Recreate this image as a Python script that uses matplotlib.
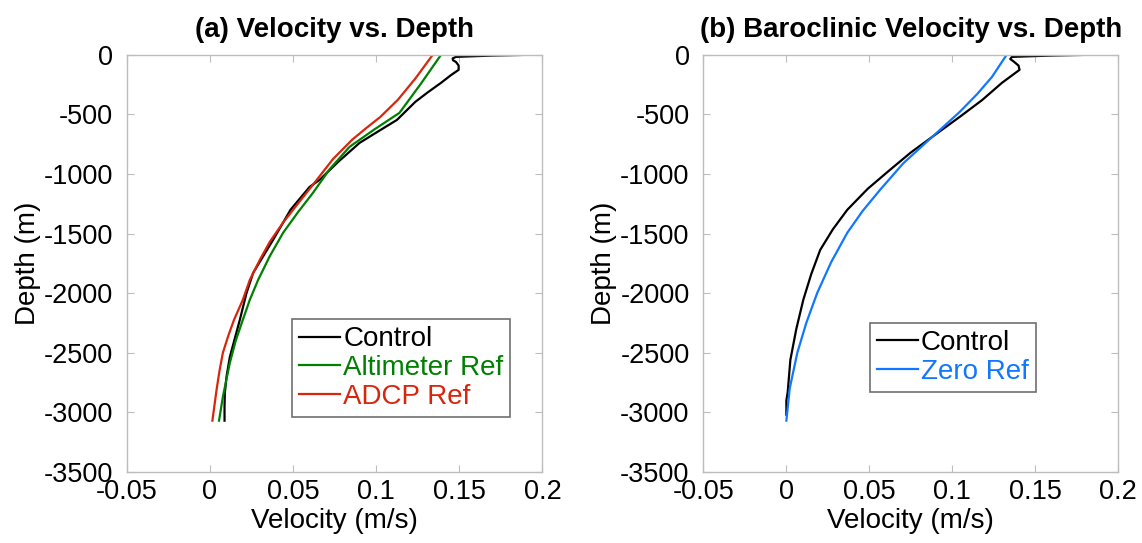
import matplotlib.pyplot as plt

plt.rcParams['font.family'] = ['Liberation Sans', 'DejaVu Sans']
plt.rcParams['axes.unicode_minus'] = False

# ---------------- datos panel (a) ----------------
ctrl_a_v = [0.1905, 0.170, 0.148, 0.1460, 0.1462, 0.148, 0.1496, 0.1496, 0.145,
            0.139, 0.131, 0.1235, 0.1125, 0.1015, 0.090, 0.077, 0.066, 0.060,
            0.0485, 0.038, 0.026, 0.022, 0.018, 0.012, 0.010, 0.009, 0.0088, 0.0088]
ctrl_a_d = [0, -6, -17, -30, -45, -60, -90, -126, -170,
            -235, -315, -395, -546, -640, -739, -900, -1049, -1108,
            -1300, -1553, -1830, -2000, -2224, -2535, -2700, -2837, -2950, -3070]

alt_v = [0.139, 0.127, 0.114, 0.099, 0.084, 0.072, 0.062, 0.053, 0.044,
         0.036, 0.029, 0.024, 0.0198, 0.0155, 0.012, 0.0078, 0.0055]
alt_d = [0, -240, -487, -625, -772, -960, -1158, -1320, -1494,
         -1690, -1889, -2056, -2224, -2400, -2585, -2870, -3070]

adcp_v = [0.134, 0.1235, 0.113, 0.1025, 0.094, 0.0855, 0.074, 0.0643, 0.054,
          0.0439, 0.036, 0.030, 0.024, 0.0198, 0.0145, 0.011, 0.0078, 0.0058,
          0.004, 0.0015]
adcp_d = [0, -200, -378, -521, -615, -713, -875, -1049, -1230,
          -1410, -1570, -1721, -1889, -2056, -2224, -2360, -2501, -2650,
          -2812, -3070]

# ---------------- datos panel (b) ----------------
ctrl_b_v = [0.181, 0.160, 0.136, 0.135, 0.137, 0.140, 0.1406, 0.130, 0.118,
            0.1046, 0.088, 0.075, 0.0625, 0.049, 0.0367, 0.028, 0.0204,
            0.015, 0.0102, 0.006, 0.0024, 0.0008, 0.0, 0.0]
ctrl_b_d = [0, -6, -17, -35, -55, -90, -126, -235, -380,
            -520, -688, -820, -965, -1125, -1301, -1465, -1637,
            -1840, -2056, -2300, -2560, -2830, -2900, -3020]

zero_v = [0.1328, 0.124, 0.115, 0.1046, 0.088, 0.0705, 0.0565, 0.046, 0.0367,
          0.027, 0.0186, 0.012, 0.0066, 0.002, 0.0]
zero_d = [0, -185, -330, -478, -688, -910, -1133, -1310, -1494,
          -1740, -1998, -2250, -2500, -2800, -3070]

xticks = [-0.05, 0, 0.05, 0.1, 0.15, 0.2]
xtick_labels = ['-0.05', '0', '0.05', '0.1', '0.15', '0.2']
yticks = [-3500, -3000, -2500, -2000, -1500, -1000, -500, 0]

GREEN = '#008000'
RED = '#d8260c'
BLUE = '#1177ff'
GREY = '#bdbdbd'

fig = plt.figure(figsize=(11.42, 5.43), dpi=100)
ax1 = fig.add_axes([0.111, 0.131, 0.364, 0.768])
ax2 = fig.add_axes([0.616, 0.131, 0.363, 0.768])


def estilo(ax, titulo):
    ax.set_xlim(-0.05, 0.2)
    ax.set_ylim(-3500, 0)
    ax.set_xticks(xticks)
    ax.set_xticklabels(xtick_labels)
    ax.set_yticks(yticks)
    ax.tick_params(direction='in', length=5, width=0.8, color=GREY,
                   labelsize=19.5, top=True, right=True)
    ax.tick_params(axis='x', pad=5)
    ax.tick_params(axis='y', pad=10)
    for s in ax.spines.values():
        s.set_color(GREY)
        s.set_linewidth(1.0)
    ax.set_xlabel('Velocity (m/s)', fontsize=20, labelpad=2)
    ax.set_ylabel('Depth (m)', fontsize=20, labelpad=2)
    ax.set_title(titulo, fontsize=20, fontweight='bold', pad=13)


def leyenda(ax, anchor, colores):
    leg = ax.legend(loc='lower right', bbox_to_anchor=anchor, fontsize=20,
                    frameon=True, fancybox=False, edgecolor='#707070',
                    framealpha=1, handlelength=1.5, handletextpad=0.1,
                    borderpad=0.25, labelspacing=0.1, borderaxespad=0)
    leg.get_frame().set_linewidth(1.2)
    for t, c in zip(leg.get_texts(), colores):
        t.set_color(c)


# panel (a)
ax1.plot(ctrl_a_v, ctrl_a_d, color='black', lw=1.6, label='Control')
ax1.plot(alt_v, alt_d, color=GREEN, lw=1.6, label='Altimeter Ref')
ax1.plot(adcp_v, adcp_d, color=RED, lw=1.6, label='ADCP Ref')
estilo(ax1, '(a) Velocity vs. Depth')
leyenda(ax1, (0.923, 0.132), ['black', GREEN, RED])

# panel (b)
ax2.plot(ctrl_b_v, ctrl_b_d, color='black', lw=1.6, label='Control')
ax2.plot(zero_v, zero_d, color=BLUE, lw=1.6, label='Zero Ref')
estilo(ax2, '(b) Baroclinic Velocity vs. Depth')
leyenda(ax2, (0.802, 0.192), ['black', BLUE])

plt.savefig('out.png', dpi=100)
plt.close()
